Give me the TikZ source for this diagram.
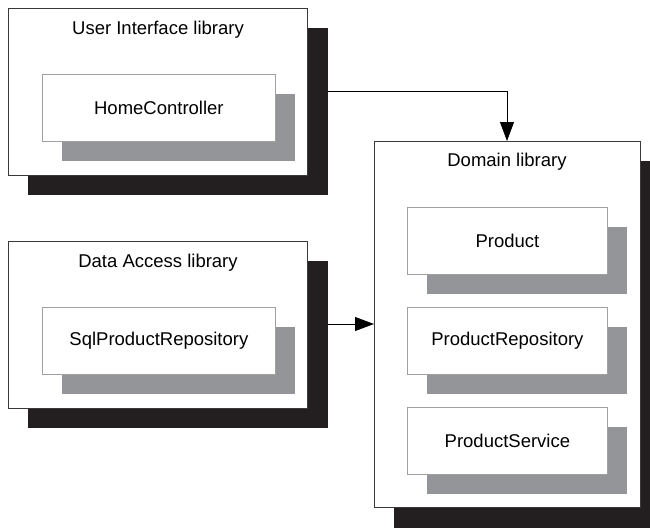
\documentclass[tikz,border=0pt]{standalone}
\usepackage{fontspec}
\setmainfont{Liberation Sans}
\usetikzlibrary{arrows.meta}
\definecolor{shadowblack}{HTML}{231F20}
\definecolor{shadowgray}{HTML}{939598}
\definecolor{edgegray}{HTML}{3A3A3A}
\definecolor{inneredge}{HTML}{A0A0A0}
\tikzset{
  x=1pt, y=-1pt,
  libbox/.style={draw=edgegray, line width=0.8pt, fill=white, anchor=north west, inner sep=0pt},
  libshadow/.style={fill=shadowblack, anchor=north west, inner sep=0pt},
  clsbox/.style={draw=inneredge, line width=0.8pt, fill=white, anchor=north west, inner sep=0pt, font=\fontsize{18.5}{22}\selectfont},
  clsshadow/.style={fill=shadowgray, anchor=north west, inner sep=0pt},
  libtitle/.style={font=\fontsize{18.5}{22}\selectfont, inner sep=0pt},
  conn/.style={draw=black, line width=0.8pt, -{Triangle[length=19pt,width=14pt]}}
}
\begin{document}
\begin{tikzpicture}
\useasboundingbox (0,0) rectangle (650,530);
% User Interface library
\node[libshadow, minimum width=300pt, minimum height=167pt] (uis) at (28,28) {};
\node[libbox, minimum width=299pt, minimum height=167pt] (ui) at (8,8) {};
\node[libtitle] (uit) at (158,30) {User Interface library};
\node[clsshadow, minimum width=233pt, minimum height=67pt] (hcs) at (62,94) {};
\node[clsbox, minimum width=233pt, minimum height=67pt] (hc) at (42,74) {HomeController};
% Data Access library
\node[libshadow, minimum width=300pt, minimum height=167pt] (das) at (28,261) {};
\node[libbox, minimum width=299pt, minimum height=167pt] (da) at (8,241) {};
\node[libtitle] (dat) at (158,263) {Data Access library};
\node[clsshadow, minimum width=233pt, minimum height=67pt] (sqls) at (62,327) {};
\node[clsbox, minimum width=233pt, minimum height=67pt] (sql) at (42,307) {SqlProductRepository};
% Domain library
\node[libshadow, minimum width=256pt, minimum height=367pt] (dos) at (394,161) {};
\node[libbox, minimum width=266pt, minimum height=366pt] (do) at (374,141) {};
\node[libtitle] (dot) at (507,162) {Domain library};
\node[clsshadow, minimum width=200pt, minimum height=67pt] (ps1) at (427,227) {};
\node[clsbox, minimum width=200pt, minimum height=67pt] (p) at (407,207) {Product};
\node[clsshadow, minimum width=200pt, minimum height=67pt] (ps2) at (427,327) {};
\node[clsbox, minimum width=200pt, minimum height=67pt] (pr) at (407,307) {ProductRepository};
\node[clsshadow, minimum width=200pt, minimum height=67pt] (ps3) at (427,427) {};
\node[clsbox, minimum width=200pt, minimum height=67pt] (psv) at (407,407) {ProductService};
% connectors
\coordinate (c1) at (uis.east |- 0,91);
\draw[conn] (c1) -| (dot |- do.north);
\coordinate (c2) at (das.east |- 0,324);
\draw[conn] (c2) -- (do.west |- c2);
\end{tikzpicture}
\end{document}
